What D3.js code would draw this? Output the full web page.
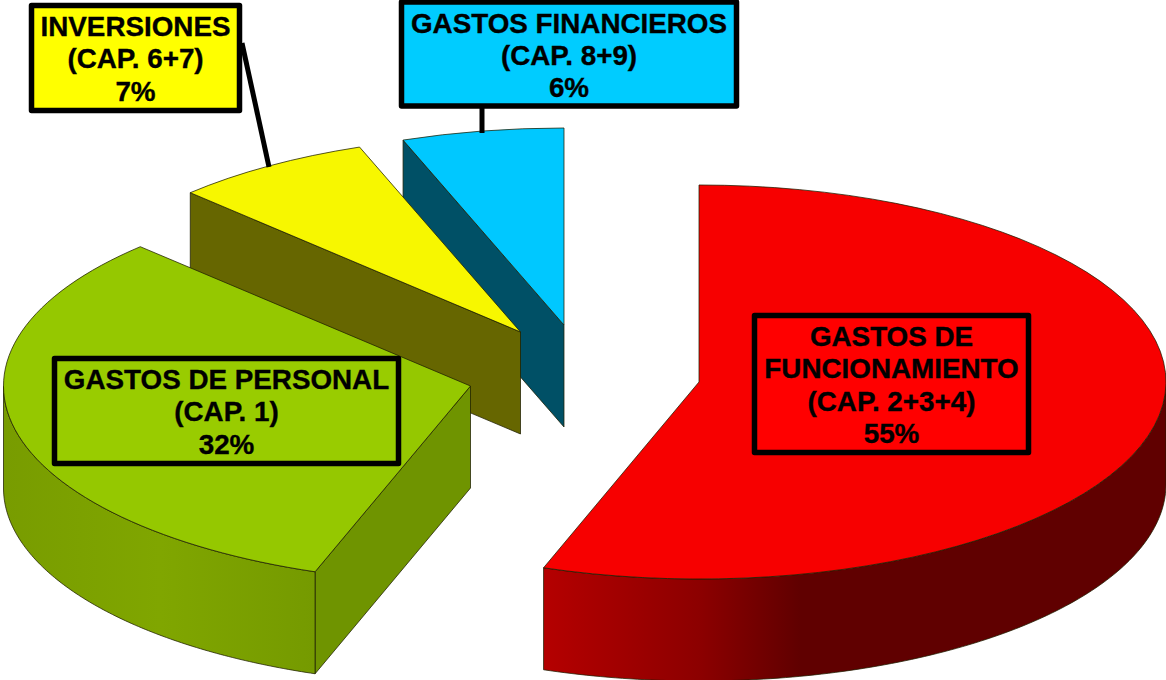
<!DOCTYPE html>
<html><head><meta charset="utf-8">
<script src="https://cdn.jsdelivr.net/npm/d3@7"></script>
<style>html,body{margin:0;padding:0;background:#fff;overflow:hidden}svg{display:block}</style>
</head><body><svg id="c" width="1166" height="680"></svg>
<script>
// Data
const categories = ["GASTOS DE FUNCIONAMIENTO","GASTOS DE PERSONAL","INVERSIONES","GASTOS FINANCIEROS"];
const shares = [55.4, 32.1, 6.9, 5.6];
const labelLines = [
  ["GASTOS DE","FUNCIONAMIENTO","(CAP. 2+3+4)","55%"],
  ["GASTOS DE PERSONAL","(CAP. 1)","32%"],
  ["INVERSIONES","(CAP. 6+7)","7%"],
  ["GASTOS FINANCIEROS","(CAP. 8+9)","6%"]
];

// Layout and style
const W = 1166, H = 680, RX = 467, RY = 197, DEPTH = 102;
const apex = [[699,382],[470.5,386],[520.5,332],[564,325]];
const topColor = ["#f70000","#95c800","#f7f700","#00c8ff"];
const boxColor = ["#ff0000","#99cc00","#ffff00","#00ccff"];
const cutColor = [null,"#6f9400","#666600","#005066"];
const wallStops = [
  [[545,"#b40000"],[700,"#8c0000"],[800,"#600000"]],
  [[3,"#789c00"],[160,"#80a600"],[316,"#759a00"]],
  null, null
];
const boxes = [[754.5,315.5,274,137],[54.5,358.5,344,105],[31.5,5.5,208,105],[401.5,2,335,104]];
const leaders = [null,null,[[242,43],[269,167]],[[482,107],[482,133]]];

const svg = d3.select("#c");
const defs = svg.append("defs");
const arcs = d3.pie().sort(null).value(d=>d)(shares);
const arcGen = d3.arc().innerRadius(0).outerRadius(RX);
const pt = (i,a,dz=0)=>[apex[i][0]+RX*Math.sin(a), apex[i][1]-RY*Math.cos(a)+dz];
const line = d3.line();
const EDGE = "rgba(30,30,0,0.75)";

wallStops.forEach((st,i)=>{
  if(!st) return;
  const g = defs.append("linearGradient").attr("id","w"+i).attr("gradientUnits","userSpaceOnUse")
    .attr("x1",st[0][0]).attr("x2",st[st.length-1][0]).attr("y1",0).attr("y2",0);
  const x0=st[0][0], x1=st[st.length-1][0];
  st.forEach(s=>g.append("stop").attr("offset",(s[0]-x0)/(x1-x0)).attr("stop-color",s[1]));
});

// draw back-to-front: blue, yellow, green, red
const order = [3,2,1,0];
const pieG = svg.append("g");
order.forEach(i=>{
  const d = arcs[i], g = pieG.append("g").attr("class","slice");
  if(Math.sin(d.startAngle) < -1e-6){
    const e = pt(i,d.startAngle);
    g.append("path").attr("d", line([apex[i], e, [e[0],e[1]+DEPTH], [apex[i][0],apex[i][1]+DEPTH]])+"Z")
      .attr("fill",cutColor[i]).attr("stroke",EDGE).attr("stroke-width",1);
  }
  const a0 = Math.max(d.startAngle, Math.PI/2), a1 = Math.min(d.endAngle, 3*Math.PI/2);
  if(a1 > a0){
    const as = d3.range(0,121).map(k=>a0+(a1-a0)*k/120);
    const poly = as.map(a=>pt(i,a)).concat(as.slice().reverse().map(a=>pt(i,a,DEPTH)));
    g.append("path").attr("d",line(poly)+"Z").attr("fill",`url(#w${i})`).attr("stroke",EDGE).attr("stroke-width",1);
  }
  g.append("path")
    .attr("transform",`translate(${apex[i][0]},${apex[i][1]}) scale(1,${RY/RX})`)
    .attr("d",arcGen(d)).attr("fill",topColor[i]).attr("stroke",EDGE).attr("stroke-width",1)
    .attr("vector-effect","non-scaling-stroke");
});

leaders.forEach(l=>{ if(l) svg.append("path").attr("d",line(l)).attr("stroke","#000").attr("stroke-width",5).attr("fill","none"); });

categories.forEach((c,i)=>{
  const b = boxes[i], g = svg.append("g").attr("class","label").attr("data-name",c);
  g.append("rect").attr("x",b[0]).attr("y",b[1]).attr("width",b[2]).attr("height",b[3])
    .attr("fill",boxColor[i]).attr("stroke","#000").attr("stroke-width",5.5).attr("stroke-linejoin","round");
  const t = g.append("text").attr("text-anchor","middle")
    .attr("font-family","'Liberation Sans',Arial,sans-serif").attr("font-weight","bold").attr("font-size",27.8)
    .attr("fill","#000").attr("stroke","#000").attr("stroke-width",0.35);
  labelLines[i].forEach((s,k)=>t.append("tspan").attr("x",b[0]+b[2]/2).attr("y",b[1]+30.5+k*32.4).text(s));
});
</script></body></html>
